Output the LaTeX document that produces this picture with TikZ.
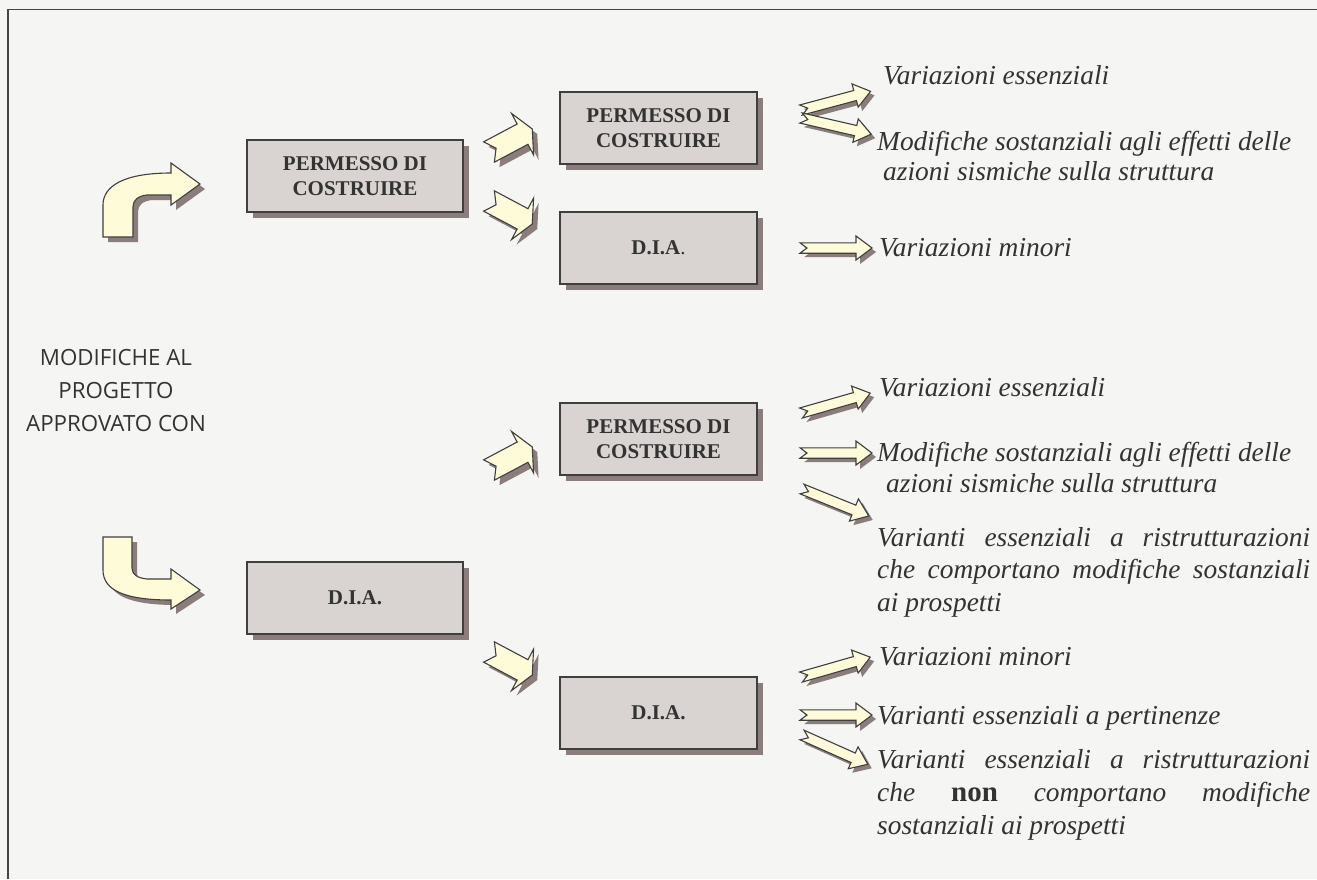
\documentclass[tikz,border=0pt]{standalone}
\usepackage{fontspec}
\setmainfont{Liberation Serif}[
  UprightFont={Liberation Serif},
  BoldFont={Liberation Serif Bold},
  ItalicFont={Liberation Serif Italic},
  BoldItalicFont={Liberation Serif Bold Italic}]
\newfontfamily\labelsans{Open Sans}
\newfontfamily\noteitalic{Liberation Serif Italic}
\usetikzlibrary{shadows}

\definecolor{bg}{HTML}{F5F5F3}
\definecolor{framecol}{HTML}{454545}
\definecolor{boxfill}{HTML}{D9D3D1}
\definecolor{boxline}{HTML}{3F3F3F}
\definecolor{shade}{HTML}{8C7D7D}
\definecolor{arrowfill}{HTML}{FEFCD8}
\definecolor{ink}{HTML}{333333}

\tikzset{
  box/.style={draw=boxline, line width=1.3pt, fill=boxfill, minimum height=72pt,
    inner sep=0pt, align=center, text=ink,
    font=\fontsize{21}{25}\selectfont\bfseries,
    drop shadow={shadow xshift=6pt, shadow yshift=-6pt, fill=shade, opacity=1}},
  wide/.style={minimum width=216pt},
  narrow/.style={minimum width=197pt},
  note/.style={anchor=base west, inner sep=0pt, text=ink,
    font=\noteitalic\fontsize{27.4}{33}\selectfont},
  blockfill/.style={fill=arrowfill, draw=boxline, line width=1.1pt, line join=miter},
  blockshade/.style={fill=shade},
}

% notched block arrow: tail centre (#1,#2), angle #3, length #4,
% body half width #5, head half width #6, head length #7, notch #8, shadow offset #9
\newcommand\notchedarrow[9]{%
  \fill[blockshade, shift={(#1+#9,#2+#9)}, rotate=#3]
    (0,-#5) -- (#4-#7,-#5) -- (#4-#7,-#6) -- (#4,0) -- (#4-#7,#6)
    -- (#4-#7,#5) -- (0,#5) -- (#8,0) -- cycle;
  \filldraw[blockfill, shift={(#1,#2)}, rotate=#3]
    (0,-#5) -- (#4-#7,-#5) -- (#4-#7,-#6) -- (#4,0) -- (#4-#7,#6)
    -- (#4-#7,#5) -- (0,#5) -- (#8,0) -- cycle;
}
\newcommand\stubarrow[3]{\notchedarrow{#1}{#2}{#3}{49}{11.5}{23.5}{11}{8}{5}}
\newcommand\thinarrow[3]{\notchedarrow{#1}{#2}{#3}{72}{5.2}{12}{16}{7}{4}}

\begin{document}
\begin{tikzpicture}[x=1pt,y=-1pt]
  \useasboundingbox (0,0) rectangle (1317,879);
  \fill[bg] (0,0) rectangle (1317,879);
  \draw[framecol, line width=1.5pt] (8,879) -- (8,9.5) -- (1317,9.5);

  % left caption
  \node[font=\labelsans\fontsize{22.3}{33}\selectfont, text=ink, align=center]
    (lead) at (116,391) {MODIFICHE AL\\PROGETTO\\APPROVATO CON};

  % curved arrow going up and right
  \fill[blockshade, shift={(5,5)}]
    (103,237) -- (103,205) .. controls (103,186) and (124,173) .. (171,173)
    -- (171,163) -- (200,184) -- (171,205) -- (171,195) -- (147,195)
    .. controls (138,196) and (133,200) .. (133,207) -- (133,237) -- cycle;
  \filldraw[blockfill]
    (103,237) -- (103,205) .. controls (103,186) and (124,173) .. (171,173)
    -- (171,163) -- (200,184) -- (171,205) -- (171,195) -- (147,195)
    .. controls (138,196) and (133,200) .. (133,207) -- (133,237) -- cycle;

  % curved arrow going down and right
  \fill[blockshade, shift={(5,5)}]
    (103,537) -- (103,570) .. controls (103,590) and (124,600) .. (171,600)
    -- (171,609) -- (200,590) -- (171,569) -- (171,579) -- (147,579)
    .. controls (138,578) and (132,575) .. (132,568) -- (132,537) -- cycle;
  \filldraw[blockfill]
    (103,537) -- (103,570) .. controls (103,590) and (124,600) .. (171,600)
    -- (171,609) -- (200,590) -- (171,569) -- (171,579) -- (147,579)
    .. controls (138,578) and (132,575) .. (132,568) -- (132,537) -- cycle;

  % boxes
  \node[box, wide]   (pdc)   at (355,176)   {PERMESSO DI\\COSTRUIRE};
  \node[box, narrow] (pdc2)  at (658.5,128) {PERMESSO DI\\COSTRUIRE};
  \node[box, narrow] (dia2)  at (658.5,248) {\textbf{D.I.A}\mdseries.};
  \node[box, narrow] (pdc3)  at (658.5,439) {PERMESSO DI\\COSTRUIRE};
  \node[box, wide]   (dia)   at (355,598)   {D.I.A.};
  \node[box, narrow] (dia3)  at (658.5,713) {D.I.A.};

  % stubby arrows between boxes
  \stubarrow{489}{152}{28}
  \stubarrow{489}{201}{-28}
  \stubarrow{489}{470}{28}
  \stubarrow{489}{652}{-28}

  % thin arrows towards the notes
  \thinarrow{801}{110}{15}
  \thinarrow{801}{118}{-13}
  \thinarrow{800}{248}{0}
  \thinarrow{801}{413}{16}
  \thinarrow{800}{453}{0}
  \thinarrow{802}{489}{-22}
  \thinarrow{801}{677}{16}
  \thinarrow{800}{715}{0}
  \thinarrow{802}{735}{-24}

  % notes
  \node[note] (t1)  at (883,84)  {Variazioni essenziali};
  \node[note] (t2a) at (877,150) {Modifiche sostanziali agli effetti delle};
  \node[note] (t2b) at (883,180) {azioni sismiche sulla struttura};
  \node[note] (t3)  at (879,256) {Variazioni minori};
  \node[note] (t4)  at (879,396) {Variazioni essenziali};
  \node[note] (t5a) at (877,461) {Modifiche sostanziali agli effetti delle};
  \node[note] (t5b) at (886,492) {azioni sismiche sulla struttura};
  \node[note] (t6a) at (877,546) {\makebox[433pt][s]{Varianti essenziali a ristrutturazioni}};
  \node[note] (t6b) at (877,578) {\makebox[433pt][s]{che comportano modifiche sostanziali}};
  \node[note] (t6c) at (877,611) {ai prospetti};
  \node[note] (t7)  at (879,665) {Variazioni minori};
  \node[note] (t8)  at (877,724) {Varianti essenziali a pertinenze};
  \node[note] (t9a) at (877,768) {\makebox[433pt][s]{Varianti essenziali a ristrutturazioni}};
  \node[note] (t9b) at (877,801) {\makebox[433pt][s]{che {\normalfont\bfseries\fontsize{29}{33}\selectfont non} comportano modifiche}};
  \node[note] (t9c) at (877,834) {sostanziali ai prospetti};
\end{tikzpicture}
\end{document}
